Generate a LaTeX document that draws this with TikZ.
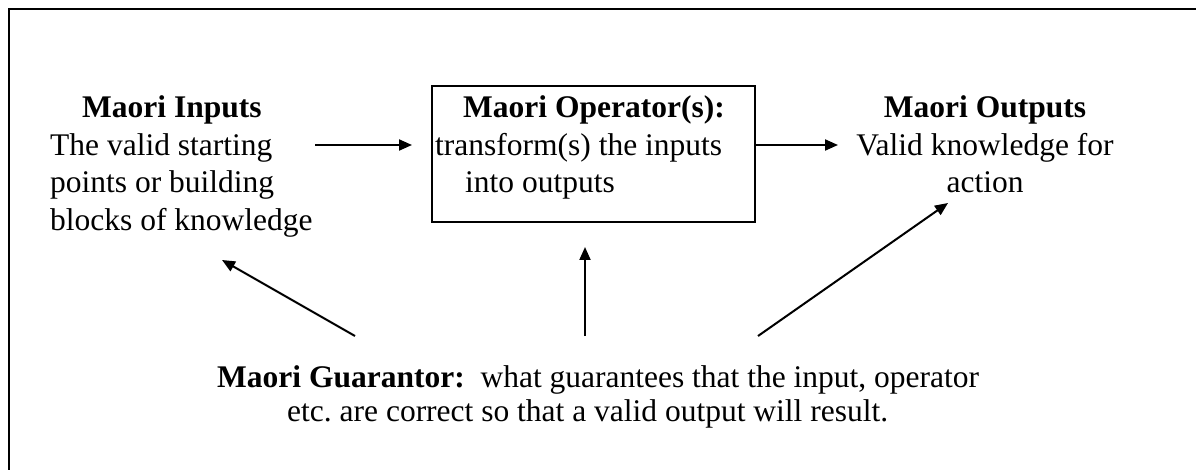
\documentclass[tikz,border=0pt]{standalone}
\usepackage{fontspec}
\setmainfont{Liberation Serif}
\usetikzlibrary{arrows.meta}
\frenchspacing

\begin{document}
\begin{tikzpicture}[x=1pt,y=-1pt,
  arr/.style={line width=2pt,-{Triangle[length=13pt,width=11pt]}},
  lbl/.style={inner sep=0pt,font=\fontsize{31.5}{37.5}\selectfont},
  opbox/.style={draw,line width=2pt,minimum width=323pt,minimum height=136pt,inner sep=0pt}]
  \useasboundingbox (0,0) rectangle (1196,470);

  % open frame: top and left edges only
  \draw[line width=2.2pt] (9,470) -- (9,9) -- (1196,9);

  % inputs
  \node[lbl,anchor=base west] (inp) at (50,118) {\begin{tabular}[t]{@{}l@{}}
    \hspace*{32pt}\textbf{Maori Inputs}\\
    The valid starting\\
    points or building\\
    blocks of knowledge\end{tabular}};

  % operator box and its text
  \node[opbox] (op) at (593.5,154) {};
  \node[lbl,anchor=base west] (optext) at (435,118) {\begin{tabular}[t]{@{}l@{}}
    \hspace*{28pt}\textbf{Maori Operator(s):}\\
    transform(s) the inputs\\
    \hspace*{30pt}into outputs\end{tabular}};

  % outputs
  \node[lbl,anchor=base] (out) at (985,118) {\begin{tabular}[t]{@{}c@{}}
    \textbf{Maori Outputs}\\
    Valid knowledge for\\
    action\end{tabular}};

  % guarantor
  \node[lbl,anchor=base west,font=\fontsize{31.5}{34}\selectfont] (guar) at (217,387) {\begin{tabular}[t]{@{}l@{}}
    \textbf{Maori Guarantor:}\ \ what guarantees that the input, operator\\
    \hspace*{70pt}etc. are correct so that a valid output will result.\end{tabular}};

  % free arrow ends
  \coordinate (a1s) at (315,145);
  \coordinate (a1e) at (412,145);
  \coordinate (a2e) at (838,145);
  \coordinate (g1s) at (355,336);
  \coordinate (g1e) at (222,260);
  \coordinate (g2s) at (585,336);
  \coordinate (g2e) at (585,247);
  \coordinate (g3s) at (758,336);
  \coordinate (g3e) at (948,203);

  \draw[arr] (a1s) -- (a1e);
  \draw[arr] (op.east |- a2e) -- (a2e);
  \draw[arr] (g1s) -- (g1e);
  \draw[arr] (g2s) -- (g2e);
  \draw[arr] (g3s) -- (g3e);
\end{tikzpicture}
\end{document}
